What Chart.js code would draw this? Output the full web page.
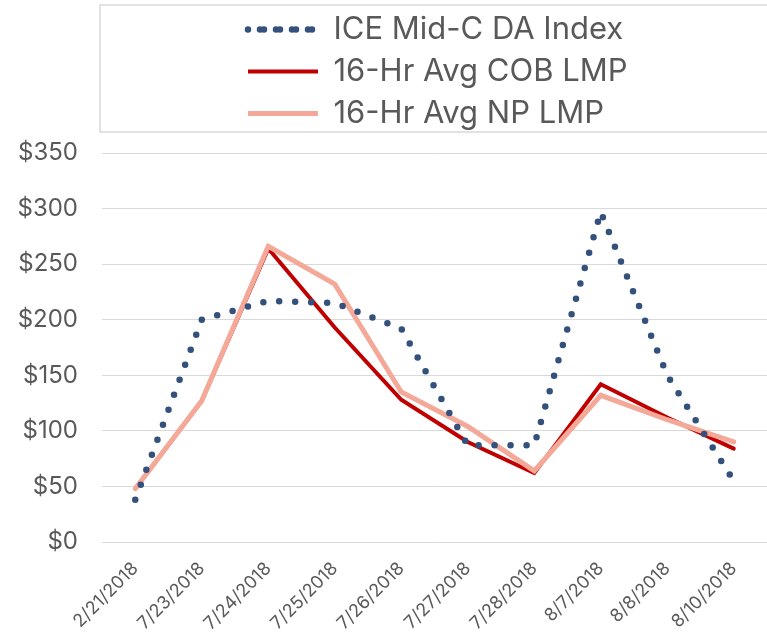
<!DOCTYPE html>
<html>
<head>
<meta charset="utf-8">
<script src="https://cdn.jsdelivr.net/npm/chart.js@4/dist/chart.umd.min.js"></script>
<style>
  html, body { margin: 0; padding: 0; background: #fff; }
  #wrap { width: 767px; height: 641px; }
</style>
</head>
<body>
<div id="wrap"><canvas id="priceChart"></canvas></div>
<script>
// Trading days shown on the x axis.
const dates = ['2/21/2018', '7/23/2018', '7/24/2018', '7/25/2018', '7/26/2018',
  '7/27/2018', '7/28/2018', '8/7/2018', '8/8/2018', '8/10/2018'];

// Prices in $/MWh.
const iceMidC = [38, 200, 217, 215, 192, 87, 87, 297, 150, 55];
const cobLmp = [48, 127, 264, 193, 128, 90, 62, 142, 112, 84];
const npLmp = [48, 127, 266, 232, 135, 104, 64, 132, 110, 90];

const yTicks = [0, 50, 100, 150, 200, 250, 300, 350];

const textColor = '#595959';
const fontFamily = 'Inter, "DejaVu Sans", sans-serif';

// Stack the legend one item per row, left aligned inside a framed box.
const legendFrame = {
  id: 'legendFrame',
  beforeInit(chart) {
    const fit = chart.legend.fit;
    chart.legend.fit = function () {
      this.maxWidth = Math.min(this.maxWidth, 640);
      fit.call(this);
      this.height += 14;
    };
  },
  afterLayout(chart) {
    chart.legend.left = 237;
    chart.legend.right = chart.chartArea.right;
  },
  afterDraw(chart) {
    const { ctx, chartArea, legend } = chart;
    ctx.save();
    ctx.strokeStyle = '#d9d9d9';
    ctx.lineWidth = 1.5;
    ctx.strokeRect(chartArea.left - 2, legend.top + 2,
      chartArea.right - chartArea.left + 10, 127);
    ctx.restore();
  }
};

new Chart(document.getElementById('priceChart'), {
  type: 'line',
  data: {
    labels: dates,
    datasets: [
      {
        label: 'ICE Mid-C DA Index',
        data: iceMidC,
        borderColor: '#34507c',
        backgroundColor: '#34507c',
        borderWidth: 6.5,
        borderDash: [0, 16],
        borderCapStyle: 'round',
        pointRadius: 0,
        tension: 0,
        order: 0
      },
      {
        label: '16-Hr Avg COB LMP',
        data: cobLmp,
        borderColor: '#c00000',
        backgroundColor: '#c00000',
        borderWidth: 4,
        borderCapStyle: 'round',
        pointRadius: 0,
        tension: 0,
        order: 2
      },
      {
        label: '16-Hr Avg NP LMP',
        data: npLmp,
        borderColor: '#f3a898',
        backgroundColor: '#f3a898',
        borderWidth: 5,
        borderCapStyle: 'round',
        pointRadius: 0,
        tension: 0,
        order: 1
      }
    ]
  },
  options: {
    responsive: true,
    maintainAspectRatio: false,
    animation: false,
    layout: { padding: { left: 16, right: 0, top: 3, bottom: 4 } },
    plugins: {
      tooltip: { enabled: false },
      legend: {
        position: 'top',
        align: 'start',
        labels: {
          color: textColor,
          font: { family: fontFamily, size: 31 },
          boxWidth: 70,
          boxHeight: 0,
          padding: 11,
          sort: (a, b) => a.datasetIndex - b.datasetIndex
        }
      }
    },
    scales: {
      x: {
        offset: true,
        afterFit: axis => { axis.height = 95; },
        grid: { display: false },
        border: { display: false },
        ticks: {
          color: textColor,
          font: { family: fontFamily, size: 18 },
          minRotation: 45,
          maxRotation: 45,
          padding: 8
        }
      },
      y: {
        min: 0,
        max: 350,
        afterBuildTicks: axis => { axis.ticks = yTicks.map(v => ({ value: v })); },
        afterFit: axis => { axis.width = 86; },
        grid: { color: '#d9d9d9', lineWidth: 1, drawTicks: false },
        border: { display: false },
        ticks: {
          color: textColor,
          font: { family: fontFamily, size: 24 },
          padding: 24,
          callback: v => '$' + v
        }
      }
    }
  },
  plugins: [legendFrame]
});
</script>
</body>
</html>
